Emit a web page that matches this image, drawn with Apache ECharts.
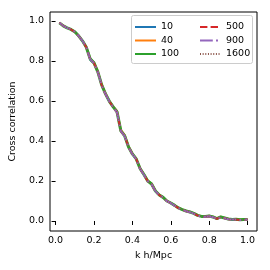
<!DOCTYPE html>
<html><head><meta charset="utf-8">
<script src="https://cdn.jsdelivr.net/npm/echarts@6/dist/echarts.min.js"></script>
<style>html,body{margin:0;padding:0;background:#fff}#c{width:270px;height:270px}</style>
</head><body><div id="c"></div>
<script>
var kValues = [0.02,0.04,0.06,0.08,0.10,0.12,0.14,0.16,0.18,0.20,0.22,0.24,0.26,0.28,0.30,0.32,0.34,0.36,0.38,0.40,0.42,0.44,0.46,0.48,0.50,0.52,0.54,0.56,0.58,0.60,0.62,0.64,0.66,0.68,0.70,0.72,0.74,0.76,0.78,0.80,0.82,0.84,0.86,0.88,0.90,0.92,0.94,0.96,0.98,1.00];
var r10   = [0.99,0.975,0.965,0.957,0.945,0.925,0.90,0.868,0.800,0.785,0.745,0.680,0.635,0.598,0.570,0.540,0.450,0.425,0.370,0.335,0.310,0.262,0.232,0.200,0.185,0.150,0.130,0.118,0.097,0.088,0.076,0.065,0.057,0.050,0.045,0.038,0.028,0.023,0.022,0.025,0.020,0.012,0.020,0.015,0.010,0.008,0.009,0.006,0.007,0.008];
var r40   = [0.99,0.975,0.965,0.957,0.945,0.925,0.90,0.868,0.812,0.792,0.748,0.683,0.638,0.600,0.572,0.550,0.455,0.430,0.374,0.338,0.312,0.265,0.235,0.202,0.187,0.152,0.131,0.119,0.101,0.091,0.079,0.066,0.058,0.051,0.046,0.039,0.029,0.024,0.023,0.026,0.021,0.013,0.021,0.016,0.011,0.009,0.010,0.007,0.008,0.009];
var r100  = [0.99,0.975,0.965,0.957,0.945,0.925,0.90,0.868,0.810,0.790,0.745,0.680,0.635,0.598,0.570,0.545,0.450,0.425,0.370,0.335,0.310,0.262,0.232,0.200,0.185,0.150,0.130,0.118,0.100,0.090,0.078,0.065,0.057,0.050,0.045,0.038,0.028,0.023,0.022,0.025,0.020,0.012,0.020,0.015,0.010,0.008,0.009,0.006,0.007,0.008];
var r500  = [0.99,0.975,0.965,0.957,0.945,0.925,0.90,0.868,0.808,0.789,0.744,0.679,0.634,0.597,0.569,0.543,0.449,0.424,0.369,0.334,0.309,0.261,0.231,0.199,0.184,0.149,0.129,0.117,0.099,0.089,0.077,0.064,0.056,0.049,0.044,0.037,0.027,0.022,0.021,0.024,0.019,0.011,0.019,0.014,0.009,0.007,0.008,0.005,0.006,0.007];
var r900  = [0.99,0.975,0.965,0.957,0.945,0.925,0.90,0.868,0.808,0.789,0.744,0.679,0.634,0.597,0.569,0.543,0.449,0.424,0.369,0.334,0.309,0.261,0.231,0.199,0.184,0.149,0.129,0.117,0.099,0.089,0.077,0.064,0.056,0.049,0.044,0.037,0.027,0.022,0.021,0.024,0.019,0.011,0.019,0.014,0.009,0.007,0.008,0.005,0.006,0.007];
var r1600 = [0.99,0.975,0.965,0.957,0.945,0.925,0.90,0.868,0.808,0.789,0.744,0.679,0.634,0.597,0.569,0.543,0.449,0.424,0.369,0.334,0.309,0.261,0.231,0.199,0.184,0.149,0.129,0.117,0.099,0.089,0.077,0.064,0.056,0.049,0.044,0.037,0.027,0.022,0.021,0.024,0.019,0.011,0.019,0.014,0.009,0.007,0.008,0.005,0.006,0.007];
var seriesNames = ['10','40','100','500','900','1600'];
var xTicks = [0.0,0.2,0.4,0.6,0.8,1.0];
var yTicks = [0.0,0.2,0.4,0.6,0.8,1.0];

var font = 'DejaVu Sans';
var fs = 9.5;
var allData = [r10,r40,r100,r500,r900,r1600];
var colors = ['#1f77b4','#ff7f0e','#2ca02c','#d62728','#9467bd','#8c564b'];
var widths = [1,2,3,2,2,1];
var types = ['solid','solid','solid',[7.4,3.2],[12.8,3.2,2,3.2],[1,1.65]];
function pairs(arr){return kValues.map(function(k,i){return [k,arr[i]];});}
var series = seriesNames.map(function(n,i){
  return {name:n,type:'line',data:pairs(allData[i]),showSymbol:false,symbol:'none',
    lineStyle:{color:colors[i],width:widths[i],type:types[i]},itemStyle:{color:colors[i]},
    z:2+i,animation:false};
});
var chart = echarts.init(document.getElementById('c'),null,{renderer:'canvas'});
var axisCommon = {
  axisLine:{show:false},
  axisTick:{show:true,inside:false,length:4,lineStyle:{color:'#000',width:1}},
  splitLine:{show:false},
  axisLabel:{color:'#000',fontFamily:font,fontSize:fs,formatter:function(v){return v.toFixed(1);}},
  nameTextStyle:{color:'#000',fontFamily:font,fontSize:fs}
};
var legendCommon = {orient:'vertical',top:22,itemWidth:21,itemHeight:8,itemGap:3.5,
  itemStyle:{opacity:0,borderWidth:0},
  textStyle:{color:'#000',fontFamily:font,fontSize:fs},padding:0};
chart.setOption({
  animation:false,
  grid:{left:44,right:13,top:12,bottom:39,show:true,borderColor:'#000',borderWidth:1,backgroundColor:'transparent'},
  xAxis:Object.assign({},axisCommon,{type:'value',min:-0.029,max:1.049,name:'k h/Mpc',nameLocation:'middle',nameGap:19,
    axisTick:Object.assign({},axisCommon.axisTick,{customValues:xTicks}),
    axisLabel:Object.assign({},axisCommon.axisLabel,{customValues:xTicks,margin:5})}),
  yAxis:Object.assign({},axisCommon,{type:'value',min:-0.05,max:1.044,name:'Cross correlation',nameLocation:'middle',nameGap:30,nameRotate:90,
    axisTick:Object.assign({},axisCommon.axisTick,{customValues:yTicks}),
    axisLabel:Object.assign({},axisCommon.axisLabel,{customValues:yTicks,margin:6})}),
  legend:[
    Object.assign({},legendCommon,{data:['10','40','100'],left:134}),
    Object.assign({},legendCommon,{data:['500','900','1600'],left:199})
  ],
  graphic:[{type:'rect',left:131,top:15,shape:{width:121,height:48,r:2},style:{fill:'rgba(255,255,255,0.8)',stroke:'#ccc',lineWidth:1},z:-1}],
  series:series
});
</script></body></html>
